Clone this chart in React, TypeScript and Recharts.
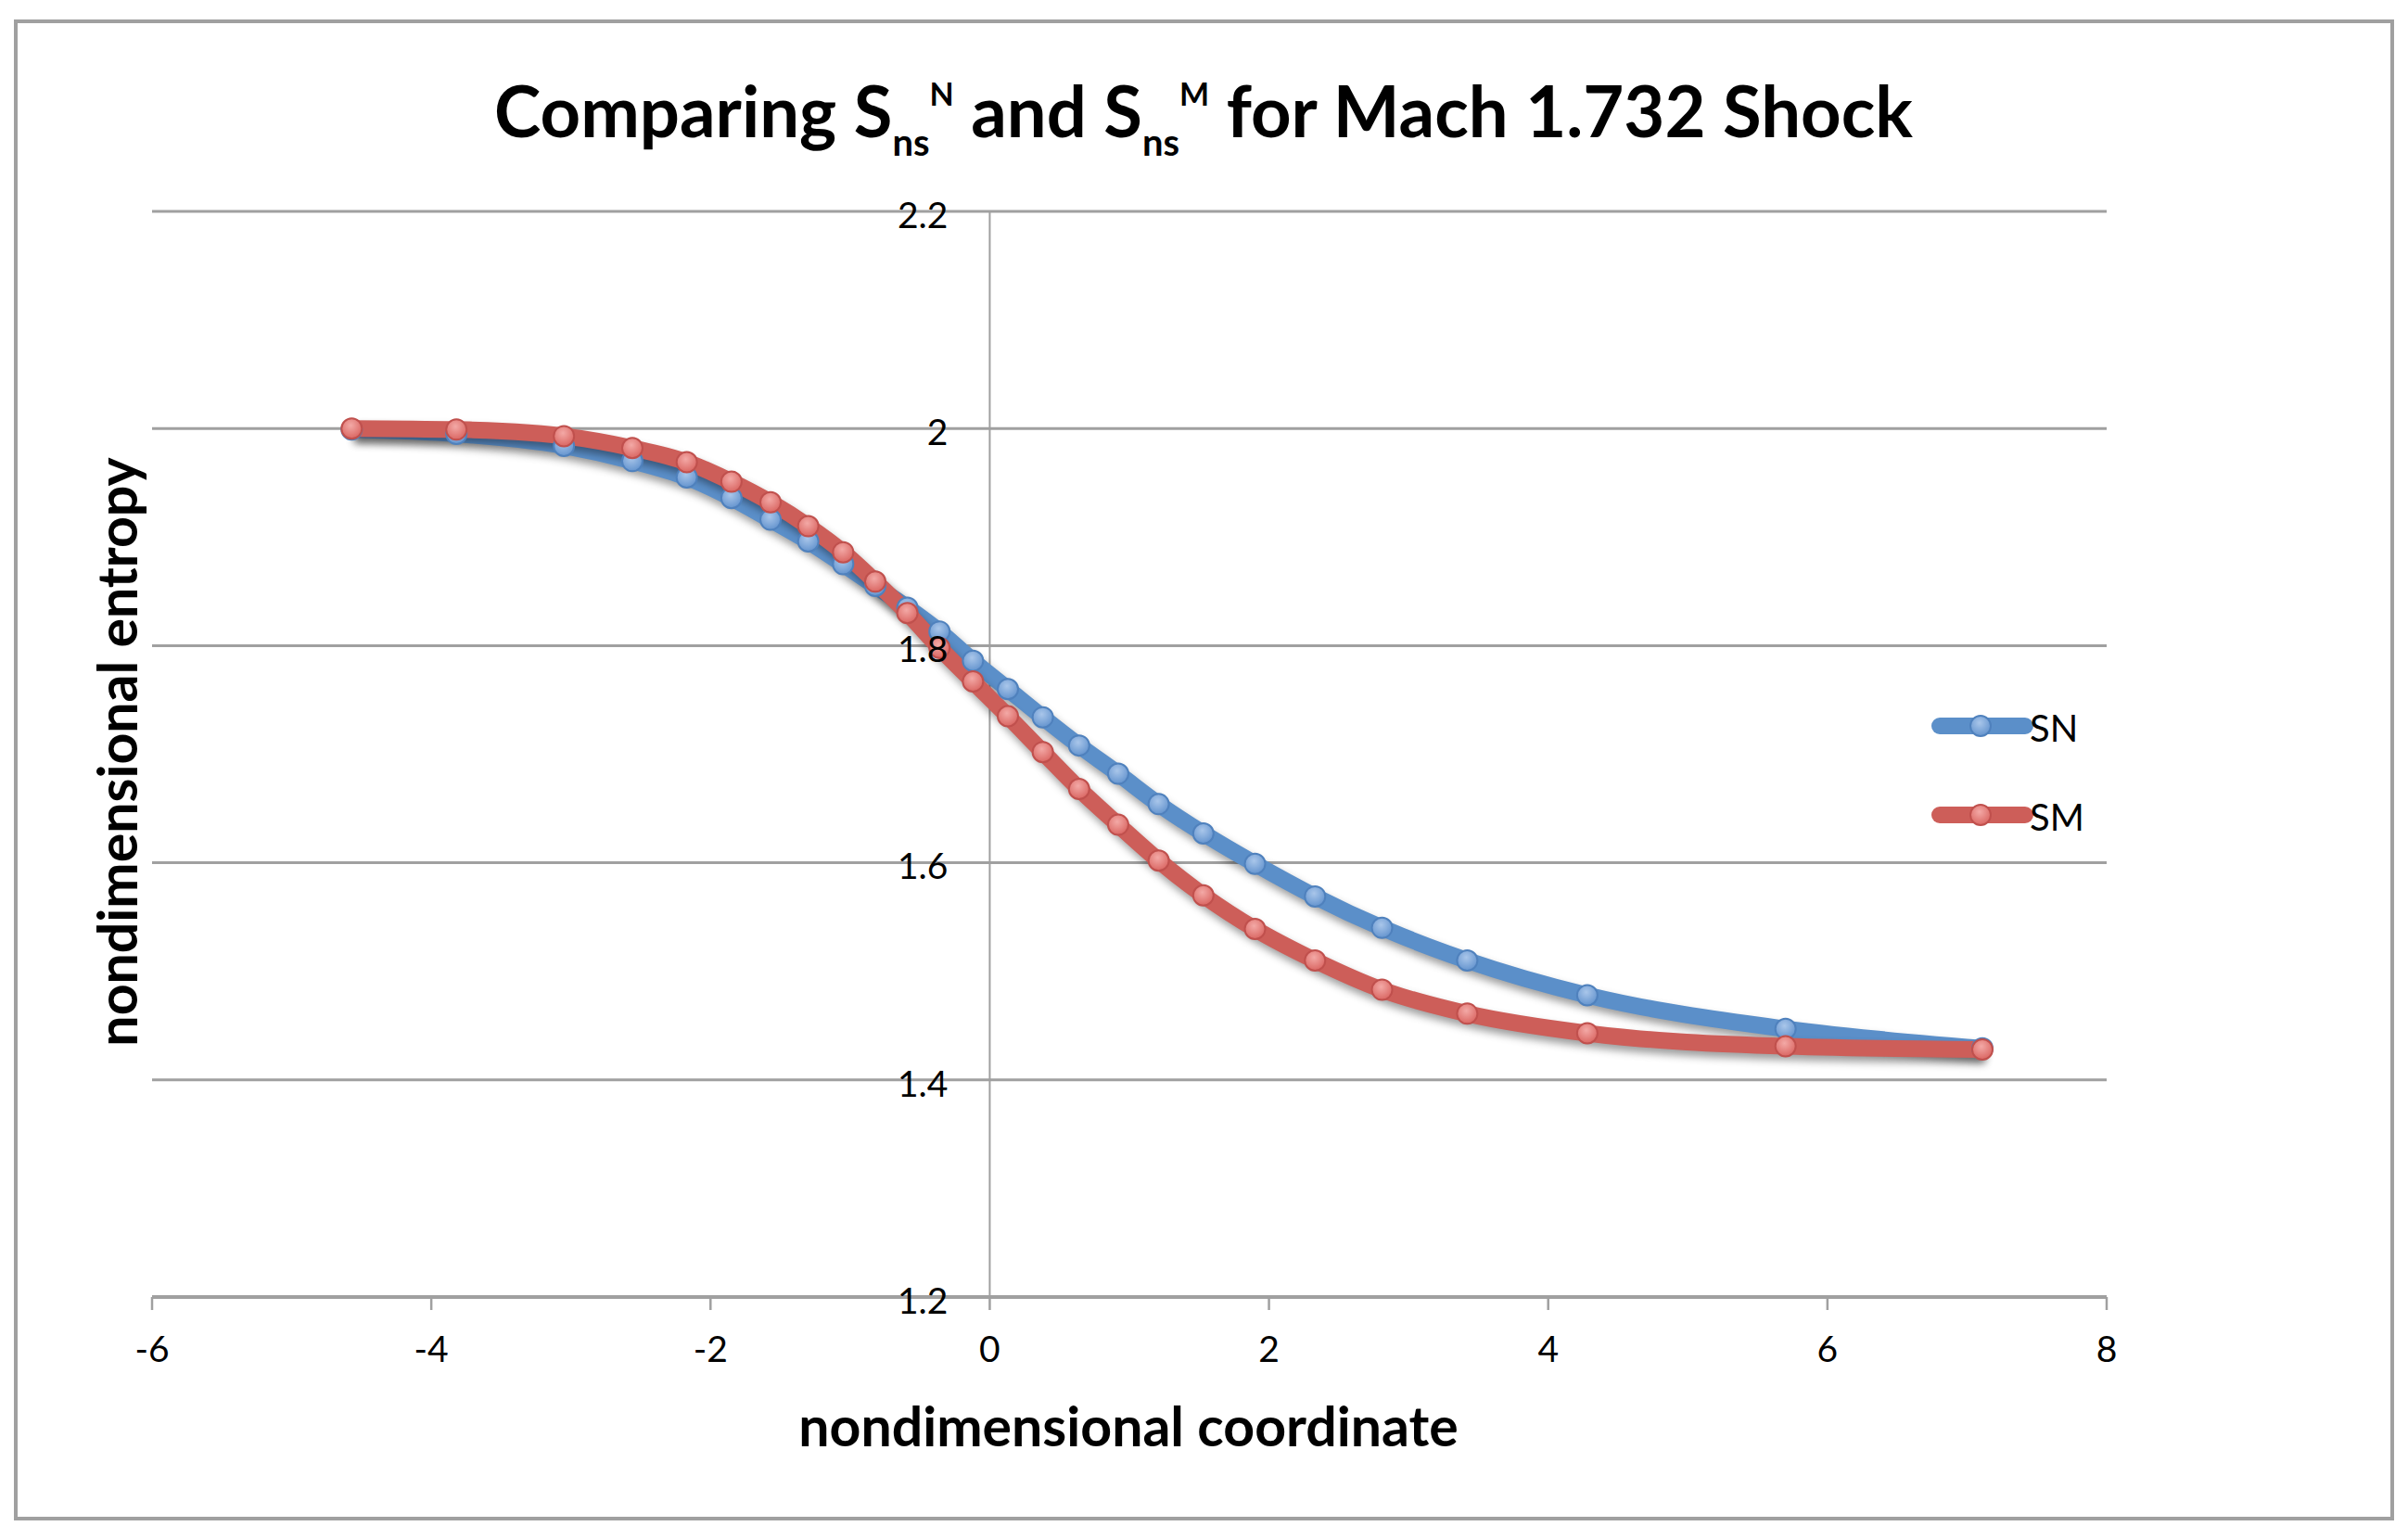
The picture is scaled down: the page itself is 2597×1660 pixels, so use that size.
import React from "react";
import {
  LineChart,
  Line,
  XAxis,
  YAxis,
  CartesianGrid,
  ReferenceLine,
  ReferenceDot,
  Legend,
} from "recharts";

// nondimensional coordinate, shared by both series
const xs = [
  -4.57, -3.82, -3.05, -2.56, -2.17, -1.85, -1.57, -1.3, -1.05, -0.82, -0.59, -0.36, -0.12,
  0.13, 0.38, 0.64, 0.92, 1.21, 1.53, 1.9, 2.33, 2.81, 3.42, 4.28, 5.7, 7.11,
];
const snValues = [
  1.999, 1.995, 1.984, 1.97, 1.955, 1.936, 1.916, 1.896, 1.875, 1.855, 1.835, 1.813, 1.786,
  1.76, 1.734, 1.708, 1.682, 1.654, 1.627, 1.599, 1.569, 1.54, 1.51, 1.478, 1.447, 1.429,
];
const smValues = [
  2.0, 1.999, 1.993, 1.982, 1.969, 1.951, 1.932, 1.91, 1.886, 1.859, 1.83, 1.798, 1.767,
  1.735, 1.702, 1.668, 1.635, 1.602, 1.57, 1.539, 1.51, 1.483, 1.461, 1.443, 1.431, 1.428,
];
const xTicks = [-6, -4, -2, 0, 2, 4, 6, 8];
const yTicks = [1.2, 1.4, 1.6, 1.8, 2.0, 2.2];
const yTickLabels = ["1.2", "1.4", "1.6", "1.8", "2", "2.2"];
const seriesOrder = ["SN", "SM"];

const data = xs.map((x, i) => ({ x, SN: snValues[i], SM: smValues[i] }));

const FONT = "Lato, 'Open Sans', 'Noto Sans', sans-serif";
const GRID = "#a0a0a0";
const BLUE = "#5b8fc9";
const RED = "#cd5e59";

const markerFill: Record<string, string> = { SN: "url(#dotBlue)", SM: "url(#dotRed)" };
const markerStroke: Record<string, string> = { SN: "#4f81bd", SM: "#c0504d" };

function renderLegend(props: any) {
  const items = [...(props.payload || [])].sort(
    (a: any, b: any) => seriesOrder.indexOf(a.value) - seriesOrder.indexOf(b.value)
  );
  return (
    <svg width={220} height={200}>
      {items.map((p: any, i: number) => {
        const cy = 23 + i * 96;
        return (
          <g key={p.value}>
            <line x1={12} y1={cy} x2={104} y2={cy} stroke={p.color} strokeWidth={18} strokeLinecap="round" />
            <circle cx={56} cy={cy} r={11} fill={markerFill[p.value]} stroke={markerStroke[p.value]} strokeWidth={2} />
            <text x={109} y={cy + 17} fontFamily={FONT} fontSize={40} fill="#000">
              {p.value}
            </text>
          </g>
        );
      })}
    </svg>
  );
}

export default function App() {
  return (
    <div style={{ position: "relative", width: 2597, height: 1660, background: "#fff", overflow: "hidden" }}>
      <style>{`body{margin:0}
.recharts-line{filter:drop-shadow(3px 6px 4px rgba(0,0,0,0.38));}`}</style>
      <div
        style={{
          position: "absolute",
          left: 15,
          top: 21,
          width: 2567,
          height: 1619,
          border: `4px solid ${GRID}`,
          boxSizing: "border-box",
        }}
      />
      <LineChart
        width={2597}
        height={1660}
        data={data}
        margin={{ top: 228, right: 325, bottom: 181, left: 164 }}
        style={{ position: "absolute", left: 0, top: 0 }}
      >
        <defs>
          <radialGradient id="dotBlue" cx="45%" cy="35%" r="70%">
            <stop offset="0%" stopColor="#a9c6ea" />
            <stop offset="100%" stopColor="#5f90cc" />
          </radialGradient>
          <radialGradient id="dotRed" cx="45%" cy="35%" r="70%">
            <stop offset="0%" stopColor="#f3a9a6" />
            <stop offset="100%" stopColor="#d8615d" />
          </radialGradient>
        </defs>
        <CartesianGrid vertical={false} stroke={GRID} strokeWidth={3} />
        <XAxis
          type="number"
          dataKey="x"
          domain={[-6, 8]}
          ticks={xTicks}
          height={80}
          axisLine={{ stroke: GRID, strokeWidth: 4 }}
          tickLine={{ stroke: GRID, strokeWidth: 2.5 }}
          tickSize={14}
          tickMargin={28}
          tick={{ fill: "#000", fontSize: 39, fontFamily: FONT }}
        />
        <YAxis type="number" domain={[1.2, 2.2]} ticks={yTicks} hide width={0} />
        <ReferenceLine x={0} stroke={GRID} strokeWidth={2} />
        <Line
          type="monotone"
          dataKey="SN"
          name="SN"
          stroke={BLUE}
          strokeWidth={18}
          dot={{ r: 11, fill: "url(#dotBlue)", stroke: "#4f81bd", strokeWidth: 2 }}
          isAnimationActive={false}
        />
        <Line
          type="monotone"
          dataKey="SM"
          name="SM"
          stroke={RED}
          strokeWidth={18}
          dot={{ r: 11, fill: "url(#dotRed)", stroke: "#c0504d", strokeWidth: 2 }}
          isAnimationActive={false}
        />
        {yTicks.map((t, i) => (
          <ReferenceDot
            key={t}
            x={0}
            y={t}
            r={0}
            fill="none"
            stroke="none"
            ifOverflow="visible"
            label={{
              value: yTickLabels[i],
              position: "left",
              offset: 45,
              dy: 4,
              fill: "#000",
              fontSize: 39,
              fontFamily: FONT,
            }}
          />
        ))}
        <Legend
          layout="vertical"
          align="center"
          verticalAlign="middle"
          content={renderLegend}
          wrapperStyle={{ position: "absolute", left: 2080, top: 760, width: 220, height: 200 }}
        />
      </LineChart>
      <svg
        width={2597}
        height={1660}
        style={{ position: "absolute", left: 0, top: 0, pointerEvents: "none" }}
        fontFamily={FONT}
      >
        <text x={1298} y={148} textAnchor="middle" fontSize={76} fontWeight={700} fill="#000">
          Comparing S
          <tspan dy={20} fontSize={40}>ns</tspan>
          <tspan dy={-54} fontSize={34}>N</tspan>
          <tspan dy={34}>{" and S"}</tspan>
          <tspan dy={20} fontSize={40}>ns</tspan>
          <tspan dy={-54} fontSize={34}>M</tspan>
          <tspan dy={34}>{" for Mach 1.732 Shock"}</tspan>
        </text>
        <text x={1217} y={1560} textAnchor="middle" fontSize={59} fontWeight={700} fill="#000">
          nondimensional coordinate
        </text>
        <text
          x={0}
          y={0}
          transform="translate(148 811) rotate(-90)"
          textAnchor="middle"
          fontSize={59}
          fontWeight={700}
          fill="#000"
        >
          nondimensional entropy
        </text>
      </svg>
    </div>
  );
}
